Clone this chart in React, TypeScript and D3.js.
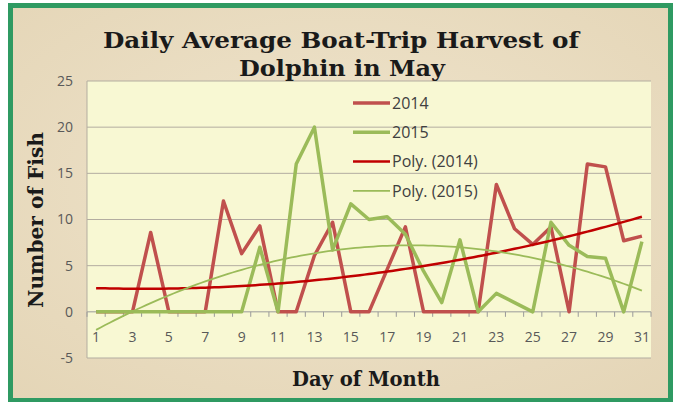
import React from "react";
import * as d3 from "d3";

const days: number[] = Array.from({ length: 31 }, (_, i) => i + 1);
const harvest2014: number[] = [0, 0, 0, 8.6, 0, 0, 0, 12, 6.3, 9.3, 0, 0, 6.1, 9.7, 0, 0, 4.6, 9.2, 0, 0, 0, 0, 13.8, 9.0, 7.3, 9.2, 0, 16, 15.7, 7.7, 8.2];
const harvest2015: number[] = [0, 0, 0, 0, 0, 0, 0, 0, 0, 7.0, 0, 16, 20, 6.7, 11.7, 10, 10.3, 8.4, 4.4, 1.0, 7.8, 0, 2.0, 1.0, 0, 9.7, 7.2, 6.0, 5.8, 0, 7.6];
const yTicks: number[] = [-5, 0, 5, 10, 15, 20, 25];
const xTickLabels: number[] = days.filter((d) => d % 2 === 1);
const legendLabels: string[] = ["2014", "2015", "Poly. (2014)", "Poly. (2015)"];
const titleLines: string[] = ["Daily Average Boat-Trip Harvest of", "Dolphin in May"];

const W = 673;
const H = 402;
const plotL = 87;
const plotR = 651;
const plotT = 81;
const plotB = 358;

function quadFit(xs: number[], ys: number[]) {
  // least squares y = a + b x + c x^2
  let s0 = 0, s1 = 0, s2 = 0, s3 = 0, s4 = 0, t0 = 0, t1 = 0, t2 = 0;
  xs.forEach((x, i) => {
    const y = ys[i];
    s0 += 1; s1 += x; s2 += x * x; s3 += x * x * x; s4 += x * x * x * x;
    t0 += y; t1 += x * y; t2 += x * x * y;
  });
  const M = [
    [s0, s1, s2, t0],
    [s1, s2, s3, t1],
    [s2, s3, s4, t2],
  ];
  for (let i = 0; i < 3; i++) {
    let p = i;
    for (let r = i + 1; r < 3; r++) if (Math.abs(M[r][i]) > Math.abs(M[p][i])) p = r;
    [M[i], M[p]] = [M[p], M[i]];
    for (let r = 0; r < 3; r++) {
      if (r === i) continue;
      const f = M[r][i] / M[i][i];
      for (let c = i; c < 4; c++) M[r][c] -= f * M[i][c];
    }
  }
  const a = M[0][3] / M[0][0];
  const b = M[1][3] / M[1][1];
  const c = M[2][3] / M[2][2];
  return (x: number) => a + b * x + c * x * x;
}

export default function App() {
  const x = d3.scaleBand<number>().domain(days).range([plotL, plotR]).padding(0);
  const bw = x.bandwidth();
  const cx = (d: number) => (x(d) as number) + bw / 2;
  const y = d3.scaleLinear().domain([-5, 25]).range([plotB, plotT]);

  const line = d3
    .line<number>()
    .x((_, i) => cx(days[i]))
    .y((v) => y(v));

  const fit14 = quadFit(days, harvest2014);
  const fit15 = quadFit(days, harvest2015);
  const samples = d3.range(1, 31.001, 0.25);
  const xCont = d3.scaleLinear().domain([1, 31]).range([cx(1), cx(31)]);
  const trendLine = (f: (v: number) => number) =>
    d3
      .line<number>()
      .x((d) => xCont(d))
      .y((d) => y(f(d)))(samples) as string;

  const red = "#c0504d";
  const green = "#9bbb59";
  const polyRed = "#c00000";

  const boundaries = d3.range(0, 32).map((i) => plotL + i * bw);

  const legendStyles = [
    { color: red, w: 3.5 },
    { color: green, w: 3.5 },
    { color: polyRed, w: 2.5 },
    { color: green, w: 1.75 },
  ];

  return (
    <svg width={W} height={H} style={{ position: "absolute", left: 0, top: 0, display: "block" }}>
      <defs>
        <radialGradient id="parch" cx="50%" cy="45%" r="75%">
          <stop offset="0%" stopColor="#efe4cc" />
          <stop offset="100%" stopColor="#e4d5b6" />
        </radialGradient>
      </defs>
      <rect x={0} y={0} width={W} height={H} fill="#ffffff" />
      <rect x={10.5} y={5.5} width={660} height={395} fill="url(#parch)" stroke="#2f9a62" strokeWidth={5} />

      {/* plot area */}
      <rect x={plotL} y={plotT} width={plotR - plotL} height={plotB - plotT} fill="#f8f8d3" />
      {yTicks.map((t) => (
        <line key={"g" + t} x1={plotL} x2={plotR} y1={y(t)} y2={y(t)} stroke={t === 0 ? "#9a9a9a" : "#b3ada0"} strokeWidth={1} />
      ))}
      <line x1={plotL} x2={plotL} y1={plotT} y2={plotB} stroke="#b3ada0" strokeWidth={1} />
      {boundaries.map((bx, i) => (
        <line key={"t" + i} x1={bx} x2={bx} y1={y(0)} y2={y(0) + 5} stroke="#9a9a9a" strokeWidth={1} />
      ))}

      {/* y tick labels */}
      {yTicks.map((t) => (
        <text key={"yl" + t} x={73} y={y(t)} dy="0.35em" textAnchor="end" fontFamily="'Open Sans', sans-serif" fontSize={14} fill="#595959">
          {t}
        </text>
      ))}
      {/* x tick labels */}
      {xTickLabels.map((d) => (
        <text key={"xl" + d} x={cx(d)} y={y(0) + 25} dy="0.35em" textAnchor="middle" fontFamily="'Open Sans', sans-serif" fontSize={14} fill="#595959">
          {d}
        </text>
      ))}

      {/* data lines */}
      <path d={line(harvest2014) as string} fill="none" stroke={red} strokeWidth={3.5} strokeLinejoin="round" />
      <path d={line(harvest2015) as string} fill="none" stroke={green} strokeWidth={3.5} strokeLinejoin="round" />
      <path d={trendLine(fit14)} fill="none" stroke={polyRed} strokeWidth={2.5} />
      <path d={trendLine(fit15)} fill="none" stroke={green} strokeWidth={1.75} />

      {/* legend */}
      {legendLabels.map((lab, i) => {
        const ly = 103 + i * 29.3;
        return (
          <g key={lab}>
            <line x1={353} x2={390} y1={ly} y2={ly} stroke={legendStyles[i].color} strokeWidth={legendStyles[i].w} />
            <text x={392} y={ly} dy="0.35em" fontFamily="'Open Sans', sans-serif" fontSize={16} fill="#404040">
              {lab}
            </text>
          </g>
        );
      })}

      {/* titles */}
      <text x={341} y={48} textAnchor="middle" fontFamily="'DejaVu Serif', serif" fontWeight="bold" fontSize={23} fill="#1a1a1a" textLength={476} lengthAdjust="spacingAndGlyphs">
        {titleLines[0]}
      </text>
      <text x={342} y={76} textAnchor="middle" fontFamily="'DejaVu Serif', serif" fontWeight="bold" fontSize={23} fill="#1a1a1a" textLength={206} lengthAdjust="spacingAndGlyphs">
        {titleLines[1]}
      </text>
      <text
        transform={`translate(43, 220) rotate(-90)`}
        textAnchor="middle"
        fontFamily="'DejaVu Serif', serif"
        fontWeight="bold"
        fontSize={20}
        fill="#1a1a1a"
        textLength={176}
        lengthAdjust="spacingAndGlyphs"
      >
        Number of Fish
      </text>
      <text x={366} y={386} textAnchor="middle" fontFamily="'DejaVu Serif', serif" fontWeight="bold" fontSize={20} fill="#1a1a1a" textLength={148} lengthAdjust="spacingAndGlyphs">
        Day of Month
      </text>
    </svg>
  );
}
